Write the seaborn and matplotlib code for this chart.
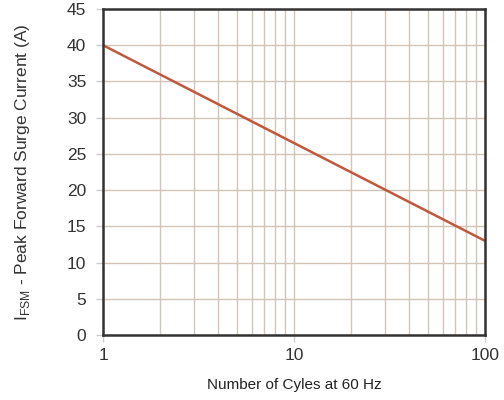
import matplotlib

matplotlib.use("Agg")
import matplotlib.pyplot as plt
import matplotlib.ticker as mticker
import pandas as pd
import seaborn as sns

cycles = [1, 10, 100]
surge_current = [40, 26.5, 13]
y_ticks = [0, 5, 10, 15, 20, 25, 30, 35, 40, 45]
x_ticks = [1, 10, 100]

sns.set_theme(style="white")
plt.rcParams["font.family"] = ["Liberation Sans", "DejaVu Sans"]
plt.rcParams["mathtext.fontset"] = "custom"
plt.rcParams["mathtext.rm"] = "Liberation Sans"

df = pd.DataFrame({"cycles": cycles, "current": surge_current})

fig = plt.figure(figsize=(5.04, 4.0), dpi=100)
ax = fig.add_axes([103 / 504, 65 / 400, 382 / 504, 326 / 400])

sns.lineplot(data=df, x="cycles", y="current", color="#c0583c", linewidth=1.8, ax=ax)

ax.set_xscale("log")
ax.set_xlim(1, 100)
ax.set_ylim(0, 45)
ax.set_yticks(y_ticks)
ax.set_xticks(x_ticks)
ax.xaxis.set_major_formatter(mticker.FuncFormatter(lambda v, p: f"{v:g}"))
ax.xaxis.set_minor_locator(mticker.LogLocator(base=10, subs=range(2, 10)))
ax.xaxis.set_minor_formatter(mticker.NullFormatter())

ax.grid(True, which="major", axis="both", color="#d2c5b8", linewidth=1.0)
ax.grid(True, which="minor", axis="x", color="#d2c5b8", linewidth=1.0)
ax.set_axisbelow(True)

for s in ax.spines.values():
    s.set_color("#333333")
    s.set_linewidth(1.8)

ax.tick_params(axis="both", which="major", direction="out", length=5, width=1,
               color="#cccccc", labelsize=12.5, labelcolor="#333333", pad=4)
ax.tick_params(axis="y", pad=7)
ax.tick_params(axis="x", which="minor", length=0)
ax.tick_params(left=True, bottom=True)

ax.set_xlabel("Number of Cyles at 60 Hz", fontsize=11, color="#222222", labelpad=11)
ax.set_ylabel(r"I$_{\mathrm{FSM}}$ - Peak Forward Surge Current (A)", fontsize=12.5,
              color="#333333", labelpad=25)

fig.savefig("out.png", dpi=100)
plt.close(fig)
